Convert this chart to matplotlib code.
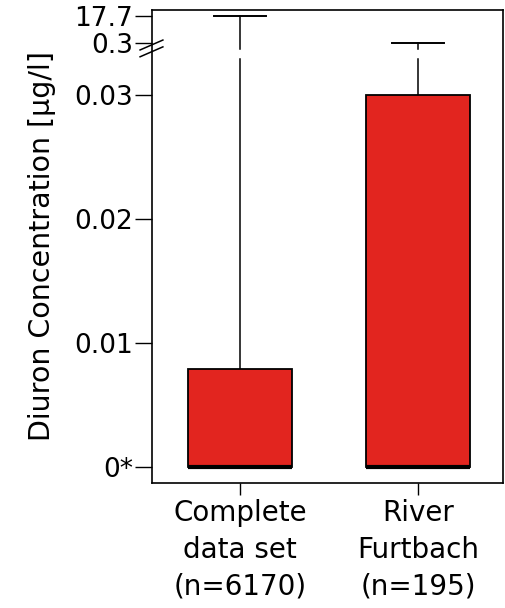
import numpy as np
import matplotlib
matplotlib.use("Agg")
import matplotlib.pyplot as plt

plt.rcParams['font.family'] = ['DejaVu Sans']

# data
groups = ["Complete\ndata set\n(n=6170)", "River\nFurtbach\n(n=195)"]
box_top = [0.0079, 0.03]      # upper edge of the red box
median = [0.0, 0.0]
whisker_top = [17.7, 0.3]
ytick_vals = [0, 0.01, 0.02, 0.03, 0.3, 17.7]
ytick_labels = ["0*", "0.01", "0.02", "0.03", "0.3", "17.7"]

# broken axis: piecewise linear mapping value -> display position
v_pts = np.array([-1.0, 0.0, 0.03, 0.3, 17.7, 40.0])
d_pts = np.array([-1.0, 0.0, 0.03, 0.034194, 0.03637, 0.03637 + 22.3 * (0.03637 - 0.034194) / 17.4])

def fwd(v):
    return np.interp(v, v_pts, d_pts)

def inv(d):
    return np.interp(d, d_pts, v_pts)

fig = plt.figure(figsize=(5.05, 6.08), dpi=100)
ax = fig.add_axes([0.301, 0.2056, 0.695, 0.778])
ax.set_yscale('function', functions=(fwd, inv))

x = np.arange(1, len(groups) + 1)
width = 0.584
red = '#E2251F'

# gap in the whiskers at the break
gap_lo = inv(0.0329)
gap_hi = inv(0.03371)

for xi, bt, md, wt in zip(x, box_top, median, whisker_top):
    ax.bar(xi, bt, width=width, bottom=0, color=red, edgecolor='black',
           linewidth=1.3, zorder=2)
    ax.plot([xi - width / 2, xi + width / 2], [md, md], color='black',
            linewidth=3, solid_capstyle='butt', zorder=3)
    if wt > 0.03:
        ax.plot([xi, xi], [bt, gap_lo], color='black', linewidth=1.1, zorder=1)
        ax.plot([xi, xi], [gap_hi, wt], color='black', linewidth=1.1, zorder=1)
    else:
        ax.plot([xi, xi], [bt, wt], color='black', linewidth=1.1, zorder=1)
    ax.plot([xi - width / 4, xi + width / 4], [wt, wt], color='black',
            linewidth=1.4, zorder=1)

ax.set_xlim(0.5056, 2.4775)
ax.set_ylim(inv(-0.00129), inv(0.036855))

ax.set_yticks(ytick_vals)
ax.set_yticklabels(ytick_labels)
ax.set_xticks(x)
ax.set_xticklabels(groups, linespacing=1.4)
ax.tick_params(axis='y', length=12.5, width=1, labelsize=19, pad=1)
ax.tick_params(axis='x', length=8.6, width=1, labelsize=20, pad=3)
ax.set_ylabel("Diuron Concentration [µg/l]", fontsize=20.5, labelpad=13)

for s in ax.spines.values():
    s.set_linewidth(1.2)

# break marks on the left spine
trans = ax.get_yaxis_transform()
for off in [0.0, 0.00055]:
    ax.plot([-0.034, 0.031], [inv(0.03308 + off), inv(0.03388 + off)],
            color='black', linewidth=1.1, transform=trans, clip_on=False,
            zorder=5)

fig.savefig("out.png", dpi=100)
